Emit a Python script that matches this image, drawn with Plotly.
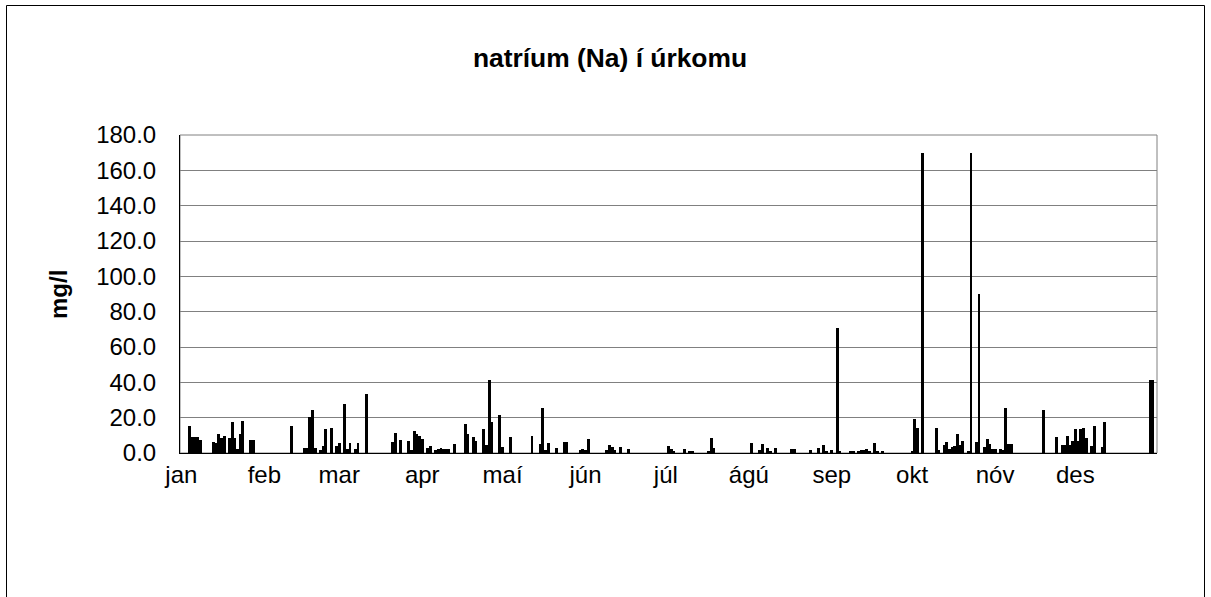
import plotly.graph_objects as go

# day index within the year (0 = 1 Jan) and sodium concentration (mg/l)
days = [3, 4, 5, 6, 7, 12, 13, 14, 15, 16, 18, 19, 20, 21, 22, 23, 26, 27,
        41, 46, 47, 48, 49, 50, 52, 53, 54, 56, 58, 59, 61, 62, 63, 65, 66, 69,
        79, 80, 82, 85, 86, 87, 88, 89, 90, 92, 93, 95, 96, 97, 98, 99, 100, 102,
        106, 107, 109, 110, 113, 114, 115, 116, 119, 120, 123, 131, 134, 135, 136,
        137, 140, 143, 144, 149, 150, 151, 152, 159, 160, 161, 162, 164, 167,
        182, 183, 184, 188, 190, 191, 197, 198, 199, 213, 216, 217, 219, 220, 222,
        228, 229, 235, 238, 240, 241, 243, 245, 246, 250, 251, 253, 254, 255, 256,
        257, 259, 260, 262, 273, 274, 275, 277, 282, 283, 285, 286, 287, 288, 289,
        290, 291, 292, 294, 295, 297, 298, 300, 301, 302, 303, 304, 306, 307, 308,
        309, 310, 322, 327, 329, 330, 331, 332, 333, 334, 335, 336, 337, 338, 340,
        341, 344, 345, 362, 363]
na_values = [15.4, 9.0, 9.0, 9.0, 7.6, 6.3, 5.5, 10.5, 8.5, 9.7, 8.5, 17.3, 8.5, 2.5, 10.7, 18.3, 7.6, 7.6,
             15.4, 2.9, 2.9, 20.2, 24.4, 2.9, 1.5, 3.8, 13.5, 14.3, 3.8, 5.7, 27.6, 2.0, 5.9, 2.0, 5.9, 33.5,
             6.3, 11.6, 7.2, 6.7, 1.5, 12.4, 10.5, 9.5, 8.2, 2.9, 3.8, 1.5, 2.0, 2.9, 2.5, 2.5, 2.0, 5.0,
             16.4, 10.7, 9.1, 6.9, 13.5, 4.4, 41.5, 17.3, 21.5, 3.4, 8.8, 9.5, 5.3, 25.3, 1.5,
             5.9, 2.9, 6.3, 6.3, 1.5, 2.5, 1.5, 7.8, 1.5, 4.4, 3.4, 1.5, 3.4, 2.5,
             4.0, 2.0, 1.0, 2.1, 1.1, 0.6, 1.0, 8.6, 2.9, 5.7, 1.5, 5.3, 2.9, 1.1, 3.0,
             2.1, 2.1, 1.9, 3.0, 4.8, 0.6, 1.9, 71.0, 0.6, 1.0, 1.0, 1.1, 1.5, 1.5, 2.5,
             1.0, 5.9, 1.0, 1.1, 1.0, 19.2, 14.3, 170.0, 14.3, 1.5, 4.4, 6.3, 2.5, 3.4, 4.0,
             10.5, 4.4, 6.7, 1.0, 170.0, 6.3, 90.0, 3.4, 8.2, 5.0, 2.0, 2.0, 2.0, 1.5, 25.3,
             5.3, 5.3, 24.4, 9.1, 4.8, 4.4, 9.5, 4.4, 6.7, 13.5, 6.7, 13.5, 14.3, 8.6, 4.0,
             15.4, 3.4, 17.3, 41.5, 41.5]

month_start_days = [0, 31, 59, 90, 120, 151, 181, 212, 243, 273, 304, 334]
month_labels = ["jan", "feb", "mar", "apr", "maí", "jún", "júl", "ágú", "sep", "okt", "nóv", "des"]

title_text = "natríum (Na) í úrkomu"
y_title = "mg/l"

FONT = "Liberation Sans, Arial, sans-serif"
W, H = 1211, 597
# plot area in page pixels: x 180..1157, y 135..453
L, T = 180, 135
R = W - 1157
B = H - 453
pw = W - L - R
ph = H - T - B


def px_x(p):  # page pixel -> paper x
    return (p - L) / pw


def px_y(p):  # page pixel -> paper y
    return (H - B - p) / ph


fig = go.Figure(go.Bar(x=days, y=na_values, width=1.1,
                       marker=dict(color="black", line=dict(width=0))))

fig.update_layout(
    width=W, height=H,
    margin=dict(l=L, r=R, t=T, b=B, pad=0),
    paper_bgcolor="white", plot_bgcolor="white",
    showlegend=False, bargap=0,
    font=dict(family=FONT, size=24, color="black"),
    title=dict(text="<b>" + title_text + "</b>", x=610 / W, xref="container",
               y=1 - 58 / H, yref="container", xanchor="center", yanchor="middle",
               font=dict(family=FONT, size=26.4, color="black")),
    xaxis=dict(range=[-0.5, 364.5], tickmode="array", tickvals=month_start_days,
               ticktext=month_labels, showgrid=False, zeroline=False,
               showline=True, linecolor="black", linewidth=1, ticks="",
               ticklabelstandoff=0, tickfont=dict(size=24)),
    yaxis=dict(range=[0, 180], dtick=20, tickformat=".1f", showgrid=True,
               gridcolor="#808080", gridwidth=1, zeroline=False,
               showline=True, linecolor="black", linewidth=1, ticks="",
               ticklabelstandoff=18, tickfont=dict(size=24)),
    shapes=[
        dict(type="rect", xref="paper", yref="paper", x0=0, x1=1, y0=0, y1=1,
             line=dict(color="#808080", width=1), layer="below"),
        dict(type="rect", xref="paper", yref="paper",
             x0=px_x(6.5), x1=px_x(1204.5), y0=px_y(610), y1=px_y(5.5),
             line=dict(color="black", width=1)),
    ],
    annotations=[
        dict(text="<b>" + y_title + "</b>", xref="paper", yref="paper",
             x=px_x(58), y=px_y(295), textangle=-90, showarrow=False,
             xanchor="center", yanchor="middle",
             font=dict(family=FONT, size=24, color="black")),
    ],
)

fig.write_html("out.html", config={"displayModeBar": False},
               post_script="document.body.style.margin='0';document.body.style.overflow='hidden';")
